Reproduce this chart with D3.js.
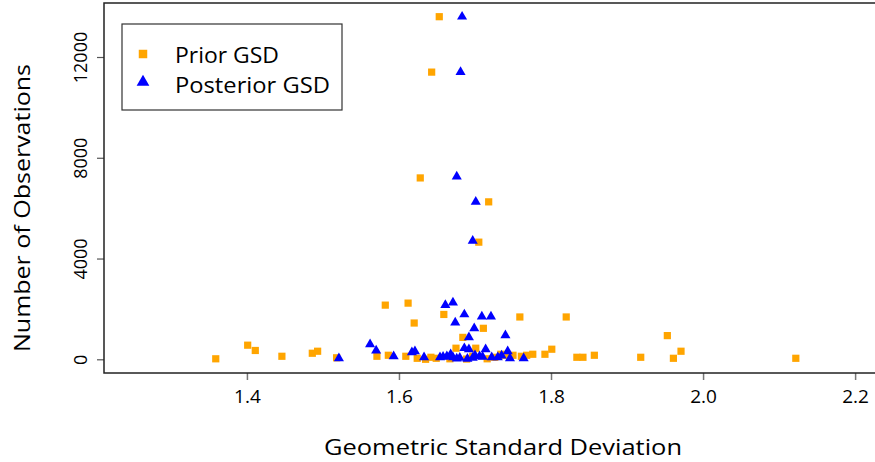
<!DOCTYPE html>
<html>
<head>
<meta charset="utf-8">
<script src="https://cdn.jsdelivr.net/npm/d3@7"></script>
<style>
  html, body { margin: 0; padding: 0; background: #fff; }
  svg { display: block; }
  text { font-family: "Open Sans", "DejaVu Sans", sans-serif; fill: #000; }
</style>
</head>
<body>
<svg id="chart" width="875" height="462"></svg>
<script>
// Prior GSD estimates and their observation counts
const priorGSD = [1.653, 1.643, 1.628, 1.718, 1.705, 1.582, 1.612, 1.659, 1.759, 1.820,
  1.620, 1.711, 1.684, 1.953, 1.401, 1.411, 1.446, 1.486, 1.493, 1.518,
  1.571, 1.586, 1.609, 1.624, 1.635, 1.642, 1.359, 1.675, 1.701, 1.971,
  1.961, 2.122, 1.918, 1.857, 1.834, 1.842, 1.801, 1.792, 1.776, 1.768,
  1.761, 1.750, 1.667, 1.689, 1.716, 1.734, 1.649, 1.697, 1.726, 1.740];
const priorN = [13600, 11400, 7200, 6250, 4650, 2150, 2230, 1780, 1680, 1680,
  1440, 1230, 870, 940, 560, 350, 120, 240, 320, 60,
  120, 160, 120, 40, 0, 80, 20, 440, 440, 320,
  40, 40, 80, 160, 80, 80, 400, 200, 200, 160,
  120, 160, 20, 10, 20, 200, 40, 120, 80, 160];

// Posterior GSD estimates and their observation counts
const posteriorGSD = [1.683, 1.681, 1.676, 1.701, 1.697, 1.661, 1.671, 1.686, 1.709, 1.721,
  1.674, 1.699, 1.692, 1.740, 1.562, 1.570, 1.521, 1.593, 1.617, 1.621,
  1.633, 1.654, 1.658, 1.663, 1.671, 1.680, 1.686, 1.692, 1.700, 1.706,
  1.714, 1.722, 1.730, 1.743, 1.746, 1.764, 1.690, 1.676, 1.697, 1.710,
  1.668, 1.735];
const posteriorN = [13600, 11400, 7250, 6250, 4700, 2150, 2250, 1780, 1700, 1700,
  1460, 1230, 870, 950, 590, 350, 40, 120, 280, 320,
  80, 80, 100, 120, 80, 60, 440, 400, 160, 120,
  400, 80, 80, 320, 40, 40, 20, 30, 60, 100,
  200, 150];

const xTicks = [1.4, 1.6, 1.8, 2.0, 2.2];
const yTicks = [0, 4000, 8000, 12000];

const svg = d3.select("#chart");
const plotLeft = 104, plotTop = 3, plotBottom = 373, plotRight = 884;

const x = d3.scaleLinear().domain([1.212, 2.238]).range([plotLeft, plotRight]);
const y = d3.scaleLinear().domain([-544, 14144]).range([plotBottom, plotTop]);

// x axis ticks and labels
const xAxis = d3.axisBottom(x).tickValues(xTicks).tickFormat(d3.format(".1f")).tickSize(7).tickPadding(10);
const gx = svg.append("g").attr("transform", `translate(0,${plotBottom})`).call(xAxis);
gx.select(".domain").remove();
gx.selectAll(".tick line").attr("stroke", "#777").attr("stroke-width", 1.5);
gx.selectAll(".tick text").attr("font-size", 19).attr("font-family", "Open Sans, sans-serif").attr("fill", "#000");

// y axis ticks and rotated labels
const yAxis = d3.axisLeft(y).tickValues(yTicks).tickFormat(d3.format("d")).tickSize(7).tickPadding(0);
const gy = svg.append("g").attr("transform", `translate(${plotLeft},0)`).call(yAxis);
gy.select(".domain").remove();
gy.selectAll(".tick line").attr("stroke", "#555").attr("stroke-width", 1.2);
gy.selectAll(".tick text")
  .attr("font-size", 18).attr("font-family", "Open Sans, sans-serif").attr("fill", "#000")
  .attr("text-anchor", "middle")
  .attr("x", 0).attr("dy", 0)
  .attr("transform", "translate(-17,0) rotate(-90)");

// plot frame
svg.append("rect")
  .attr("x", plotLeft).attr("y", plotTop)
  .attr("width", plotRight - plotLeft).attr("height", plotBottom - plotTop)
  .attr("fill", "none").attr("stroke", "#222").attr("stroke-width", 1.5);

const square = d3.symbol().type(d3.symbolSquare).size(52);
const triangle = d3.symbol().type(d3.symbolTriangle).size(44);

// prior points
svg.append("g").selectAll("path")
  .data(d3.range(priorGSD.length))
  .join("path")
  .attr("d", square)
  .attr("transform", i => `translate(${x(priorGSD[i])},${y(priorN[i])})`)
  .attr("fill", "#FFA500");

// posterior points
svg.append("g").selectAll("path")
  .data(d3.range(posteriorGSD.length))
  .join("path")
  .attr("d", triangle)
  .attr("transform", i => `translate(${x(posteriorGSD[i])},${y(posteriorN[i])})`)
  .attr("fill", "#0000FF");

// axis titles
svg.append("text")
  .attr("x", 503).attr("y", 455)
  .attr("text-anchor", "middle")
  .attr("font-size", 22)
  .attr("textLength", 358).attr("lengthAdjust", "spacingAndGlyphs")
  .text("Geometric Standard Deviation");

svg.append("text")
  .attr("transform", "translate(30,208) rotate(-90)")
  .attr("text-anchor", "middle")
  .attr("font-size", 22)
  .attr("textLength", 288).attr("lengthAdjust", "spacingAndGlyphs")
  .text("Number of Observations");

// legend
const legend = svg.append("g");
legend.append("rect")
  .attr("x", 122).attr("y", 24).attr("width", 220).attr("height", 86)
  .attr("fill", "#fff").attr("stroke", "#333").attr("stroke-width", 1.2);
legend.append("path").attr("d", d3.symbol().type(d3.symbolSquare).size(72)).attr("transform", "translate(143,54)").attr("fill", "#FFA500");
legend.append("path").attr("d", d3.symbol().type(d3.symbolTriangle).size(70)).attr("transform", "translate(143,82)").attr("fill", "#0000FF");
legend.append("text").attr("x", 175).attr("y", 63).attr("font-size", 21)
  .attr("textLength", 104).attr("lengthAdjust", "spacingAndGlyphs").text("Prior GSD");
legend.append("text").attr("x", 175).attr("y", 93).attr("font-size", 21)
  .attr("textLength", 155).attr("lengthAdjust", "spacingAndGlyphs").text("Posterior GSD");
</script>
</body>
</html>
